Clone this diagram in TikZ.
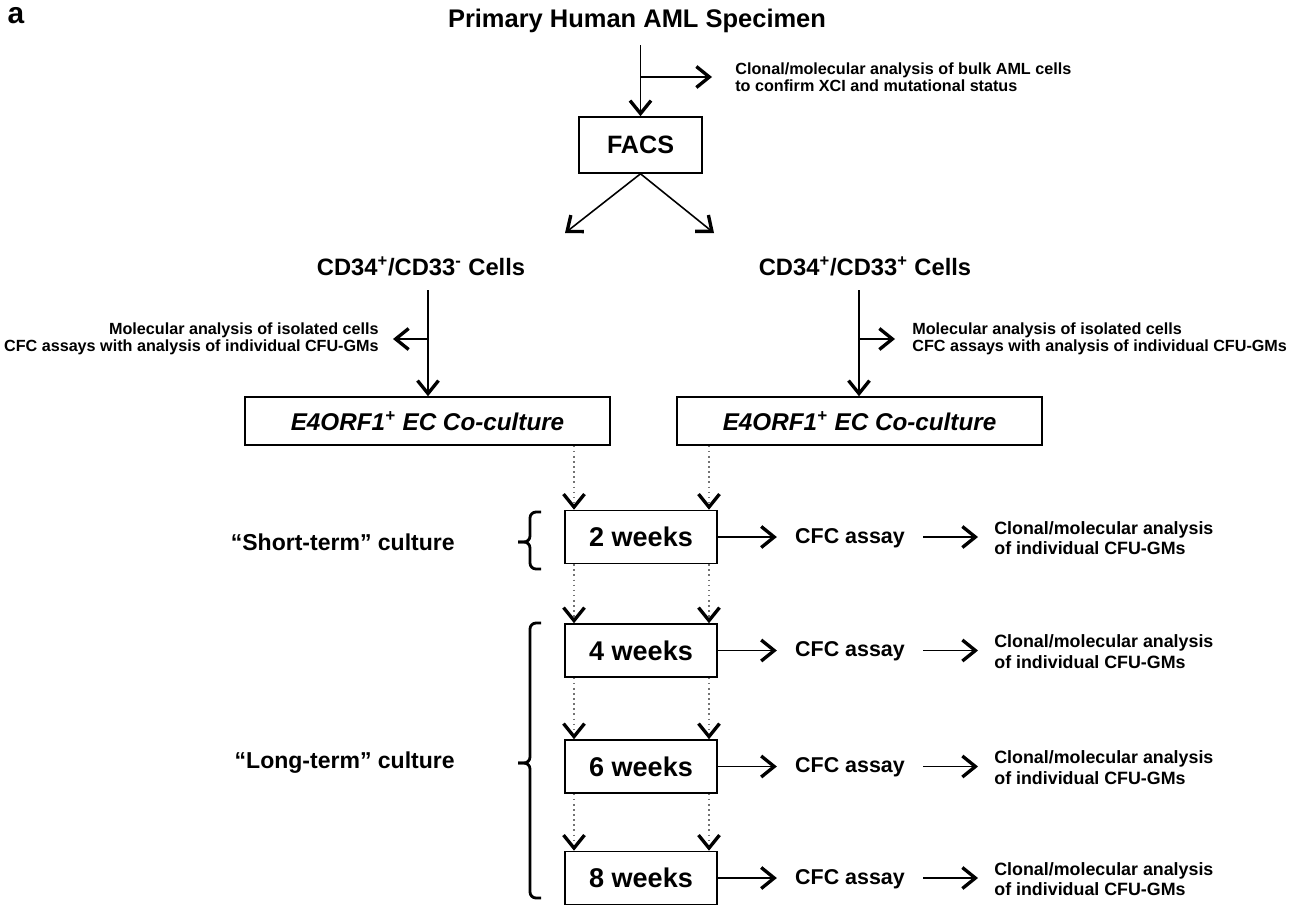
\documentclass[tikz,border=0pt]{standalone}
\usepackage{fontspec}
\setmainfont{Liberation Sans}
\usetikzlibrary{arrows.meta,positioning,calc}

\tikzset{
	box/.style={draw, line width=0.9pt, fill=white, inner sep=0pt},
	facsbox/.style={box, minimum width=2.46cm, minimum height=1.12cm,
		font=\fontsize{14.3}{16}\selectfont\bfseries},
	ecbox/.style={box, minimum width=7.3cm, minimum height=0.96cm,
		font=\fontsize{13.8}{16}\selectfont\bfseries\itshape},
	weekbox/.style={box, minimum width=3.04cm, minimum height=1.06cm,
		font=\fontsize{15.4}{17}\selectfont\bfseries},
	celllabel/.style={font=\fontsize{13.5}{15}\selectfont\bfseries},
	note/.style={font=\fontsize{9.2}{9.9}\selectfont\bfseries, inner ysep=0pt},
	cfc/.style={font=\fontsize{12.2}{14}\selectfont\bfseries, inner xsep=0.36cm},
	clonal/.style={font=\fontsize{10.15}{11.7}\selectfont\bfseries, align=left,
		anchor=west, inner xsep=0.32cm, inner ysep=0pt},
	term/.style={font=\fontsize{13.1}{15}\selectfont\bfseries, anchor=east, inner sep=0pt},
	arr/.style={line width=0.9pt,
		-{Straight Barb[length=2.6mm,width=4.2mm,line width=1.9pt,color=black]}},
	dotarr/.style={arr, dotted, line width=0.6pt, draw=black!55},
	bracket/.style={line width=1.6pt, rounded corners=0.12cm}
}

\begin{document}
\begin{tikzpicture}[x=0.02cm,y=-0.02cm]
	\useasboundingbox (0,0) rectangle (1300,907);

	% top part
	\node[font=\fontsize{17}{17}\selectfont\bfseries] (lbl) at (16,16) {a};
	\node[font=\fontsize{14.5}{16}\selectfont\bfseries] (spec) at (637,21)
		{Primary Human AML Specimen};
	\node[facsbox] (facs) at (640.5,145) {FACS};
	\coordinate (s0) at (641,45);
	\draw[arr] (facs.north |- s0) -- (facs.north);
	\node[note, anchor=west, align=left, inner xsep=0.46cm] (bulk) at (712,77)
		{Clonal/molecular analysis of bulk AML cells\\to confirm XCI and mutational status};
	\draw[arr] (facs.north |- bulk.west) -- (bulk.west);

	% sorted cells
	\coordinate (dl) at (565,233);
	\coordinate (dr) at (714,233);
	\draw[arr] (facs.south) -- (dl);
	\draw[arr] (facs.south) -- (dr);
	\node[celllabel] (neg) at (421,266) {CD34\textsuperscript{+}/CD33\textsuperscript{-} Cells};
	\node[celllabel] (pos) at (865,266) {CD34\textsuperscript{+}/CD33\textsuperscript{+} Cells};

	\node[ecbox] (ecl) at (427.5,421) {E4ORF1\textsuperscript{+} EC Co-culture};
	\node[ecbox] (ecr) at (859.5,421) {E4ORF1\textsuperscript{+} EC Co-culture};
	\coordinate (vl) at (428,290);
	\coordinate (vr) at (859,290);
	\draw[arr] (vl) -- (vl |- ecl.north);
	\draw[arr] (vr) -- (vr |- ecr.north);

	\node[note, anchor=east, align=right, inner xsep=0.28cm] (isol) at (393,339)
		{Molecular analysis of isolated cells\\CFC assays with analysis of individual CFU-GMs};
	\node[note, anchor=west, align=left, inner xsep=0.34cm] (isor) at (895,339)
		{Molecular analysis of isolated cells\\CFC assays with analysis of individual CFU-GMs};
	\draw[arr] (vl |- isol.east) -- (isol.east);
	\draw[arr] (vr |- isor.west) -- (isor.west);

	% time points
	\foreach \n/\y in {2/537,4/650.5,6/766.5,8/878} {
		\node[weekbox] (w\n) at (641,\y) {\n\ weeks};
		\node[cfc] (c\n) at (850,\y+1) {CFC assay};
		\node[clonal] (m\n) at (978,\y+1)
			{Clonal/molecular analysis\\of individual CFU-GMs};
		\draw[arr] (w\n) -- (w\n -| c\n.west);
		\draw[arr] (c\n.east |- w\n) -- (m\n.west |- w\n);
	}

	\coordinate (cl) at (574,0);
	\coordinate (cr) at (709,0);
	\draw[dotarr] (ecl.south -| cl) -- (w2.north -| cl);
	\draw[dotarr] (ecr.south -| cr) -- (w2.north -| cr);
	\foreach \a/\b in {w2/w4,w4/w6,w6/w8} {
		\draw[dotarr] (\a.south -| cl) -- (\b.north -| cl);
		\draw[dotarr] (\a.south -| cr) -- (\b.north -| cr);
	}

	% culture phases
	\coordinate (st) at (541,512);
	\coordinate (sb) at (541,569);
	\coordinate (sm) at (518,542);
	\coordinate (lt) at (541,623);
	\coordinate (lb) at (541,898);
	\coordinate (lm) at (518,763);
	\draw[bracket] (st) -- (530,512) -- (530,542) -- (sm);
	\draw[bracket] (sb) -- (530,569) -- (530,542) -- (sm);
	\draw[bracket] (lt) -- (530,623) -- (530,763) -- (lm);
	\draw[bracket] (lb) -- (530,898) -- (530,763) -- (lm);
	\node[term] (short) at (455,542) {“Short-term” culture};
	\node[term] (long) at (455,763) {“Long-term” culture};
\end{tikzpicture}
\end{document}
